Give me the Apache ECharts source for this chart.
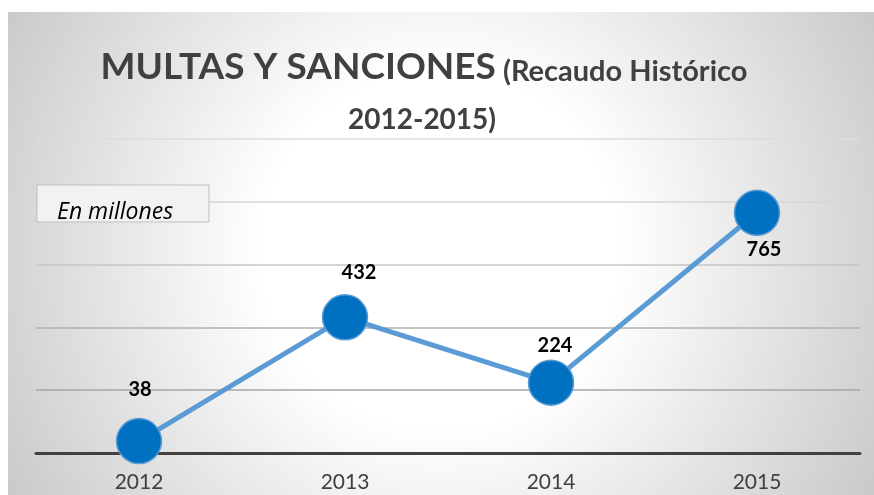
<!DOCTYPE html>
<html>
<head>
<meta charset="utf-8">
<script src="https://cdn.jsdelivr.net/npm/echarts@6/dist/echarts.min.js"></script>
<style>
  html, body { margin: 0; padding: 0; background: #ffffff; }
  #chart { position: absolute; left: 8px; top: 12px; width: 866px; height: 483px; }
</style>
</head>
<body>
<div id="chart"></div>
<script>
// Recaudo histórico de multas y sanciones (millones)
const years = ['2012', '2013', '2014', '2015'];
const recaudo = [38, 432, 224, 765];
const axisMin = 0;
const axisMax = 1000;
const axisStep = 200;

// where each value label sits relative to its point
const labelNudges = [[1, -52], [14, -45], [4, -37], [7, 37]];

const FONT = "Lato, 'Open Sans', sans-serif";
const NOTE_FONT = "'Open Sans', Lato, sans-serif";

const chart = echarts.init(document.getElementById('chart'));

chart.setOption({
  backgroundColor: {
    type: 'radial', x: 432, y: 238, r: 540, global: true,
    colorStops: [
      { offset: 0, color: '#ffffff' },
      { offset: 0.33, color: '#ffffff' },
      { offset: 1, color: '#c2c2c2' }
    ]
  },
  animation: false,
  grid: { left: 28, right: 14, top: 127, bottom: 42 },
  xAxis: {
    type: 'category',
    data: years,
    boundaryGap: true,
    axisLine: { lineStyle: { color: '#404040', width: 3 } },
    axisTick: { show: false },
    axisLabel: { color: '#404040', fontSize: 21, fontFamily: FONT, margin: 19 }
  },
  yAxis: {
    type: 'value',
    min: axisMin, max: axisMax, interval: axisStep,
    axisLabel: { show: false },
    axisLine: { show: false },
    axisTick: { show: false },
    splitLine: {
      lineStyle: { width: 1.5, color: ['#404040', '#a6a6a6', '#b0b0b0', '#c6c6c6', '#d6d6d6', '#dcdcdc'] }
    }
  },
  graphic: [
    {
      type: 'text', x: 416, y: 37, z: 10,
      style: {
        text: '{a|MULTAS Y SANCIONES}{b| (Recaudo Histórico}',
        align: 'center', verticalAlign: 'top',
        rich: {
          a: { fontSize: 37, fontWeight: 'bold', fontFamily: FONT, fill: '#404040', lineHeight: 37, verticalAlign: 'bottom' },
          b: { fontSize: 29, fontWeight: 'bold', fontFamily: FONT, fill: '#404040', lineHeight: 29, verticalAlign: 'bottom' }
        }
      }
    },
    {
      type: 'text', x: 414, y: 94, z: 10,
      style: {
        text: '2012-2015)', align: 'center', verticalAlign: 'top',
        fontSize: 28, fontWeight: 'bold', fontFamily: FONT, fill: '#404040'
      }
    },
    {
      type: 'rect', z: 10,
      shape: { x: 29, y: 173, width: 172, height: 37 },
      style: { fill: '#f2f2f2', stroke: '#bfbfbf', lineWidth: 1 }
    },
    {
      type: 'text', x: 49, y: 200, z: 11,
      style: {
        text: 'En millones', verticalAlign: 'middle',
        fontSize: 23, fontStyle: 'italic', fontFamily: NOTE_FONT, fill: '#000000'
      }
    }
  ],
  series: [{
    type: 'line',
    data: recaudo.map((v, i) => ({
      value: v,
      label: { offset: labelNudges[i] }
    })),
    symbol: 'circle',
    symbolSize: 45,
    lineStyle: { color: '#5b9bd5', width: 5 },
    itemStyle: { color: '#0070c0', borderColor: '#5b9bd5', borderWidth: 1.5 },
    label: {
      show: true, position: 'inside',
      color: '#000000', fontSize: 20, fontWeight: 'bold', fontFamily: FONT
    },
    z: 3
  }]
});
</script>
</body>
</html>
